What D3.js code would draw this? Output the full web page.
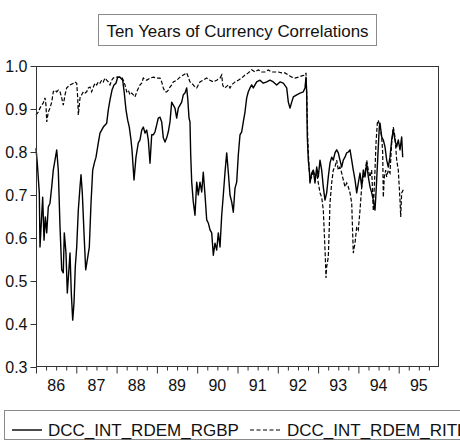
<!DOCTYPE html>
<html><head><meta charset="utf-8">
<script src="https://cdn.jsdelivr.net/npm/d3@7"></script>
<style>
html,body{margin:0;padding:0;background:#fff;}
svg{display:block;font-family:"Liberation Sans",Arial,sans-serif;}
</style></head>
<body><svg id="c" width="460" height="444"></svg>
<script>
const title = "Ten Years of Currency Correlations";
const seriesNames = ["DCC_INT_RDEM_RGBP", "DCC_INT_RDEM_RITL"];
const yTicks = [0.3, 0.4, 0.5, 0.6, 0.7, 0.8, 0.9, 1.0];
const yearLabels = ["86","87","88","89","90","91","92","93","94","95"];
const yearStarts = [1986,1987,1988,1989,1990,1991,1992,1993,1994,1995];

// [decimal year, correlation]
const rgbp = [
[1986.000,0.809],[1986.032,0.774],[1986.082,0.705],[1986.099,0.579],[1986.166,0.695],[1986.199,0.595],
[1986.231,0.649],[1986.266,0.612],[1986.305,0.672],[1986.347,0.681],[1986.390,0.719],[1986.429,0.758],
[1986.471,0.781],[1986.514,0.805],[1986.553,0.758],[1986.596,0.626],[1986.638,0.526],[1986.677,0.519],
[1986.702,0.612],[1986.744,0.565],[1986.777,0.472],[1986.811,0.519],[1986.844,0.565],[1986.876,0.472],
[1986.911,0.409],[1986.943,0.449],[1986.975,0.533],[1987.010,0.579],[1987.050,0.665],[1987.092,0.719],
[1987.117,0.747],[1987.149,0.705],[1987.191,0.612],[1987.233,0.526],[1987.273,0.549],[1987.323,0.579],
[1987.365,0.681],[1987.407,0.758],[1987.447,0.774],[1987.489,0.788],[1987.546,0.821],[1987.588,0.844],
[1987.670,0.858],[1987.754,0.867],[1987.794,0.898],[1987.836,0.921],[1987.886,0.944],[1987.935,0.956],
[1987.985,0.960],[1988.027,0.974],[1988.084,0.974],[1988.151,0.967],[1988.191,0.937],[1988.233,0.898],
[1988.275,0.874],[1988.315,0.858],[1988.357,0.828],[1988.382,0.805],[1988.432,0.735],[1988.481,0.788],
[1988.538,0.821],[1988.581,0.828],[1988.623,0.851],[1988.663,0.858],[1988.705,0.844],[1988.747,0.851],
[1988.787,0.828],[1988.829,0.774],[1988.871,0.840],[1988.911,0.840],[1988.953,0.847],[1988.995,0.863],
[1989.035,0.879],[1989.077,0.881],[1989.119,0.870],[1989.159,0.833],[1989.201,0.823],[1989.243,0.833],
[1989.283,0.847],[1989.325,0.870],[1989.367,0.916],[1989.407,0.909],[1989.449,0.902],[1989.491,0.879],
[1989.531,0.902],[1989.573,0.909],[1989.615,0.916],[1989.655,0.933],[1989.697,0.937],[1989.739,0.949],
[1989.764,0.926],[1989.797,0.879],[1989.821,0.870],[1989.839,0.793],[1989.864,0.730],[1989.903,0.684],
[1989.945,0.653],[1989.988,0.730],[1990.027,0.700],[1990.069,0.730],[1990.112,0.707],[1990.151,0.753],
[1990.194,0.700],[1990.236,0.642],[1990.275,0.635],[1990.318,0.619],[1990.360,0.612],[1990.400,0.560],
[1990.442,0.588],[1990.484,0.572],[1990.524,0.612],[1990.566,0.579],[1990.608,0.653],[1990.648,0.700],
[1990.690,0.753],[1990.732,0.798],[1990.772,0.753],[1990.814,0.700],[1990.856,0.684],[1990.896,0.660],
[1990.938,0.716],[1990.980,0.730],[1991.020,0.793],[1991.062,0.840],[1991.104,0.847],[1991.144,0.870],
[1991.186,0.893],[1991.228,0.926],[1991.268,0.940],[1991.310,0.949],[1991.352,0.956],[1991.392,0.949],
[1991.434,0.956],[1991.476,0.963],[1991.558,0.967],[1991.640,0.960],[1991.725,0.963],[1991.806,0.967],
[1991.888,0.963],[1991.973,0.956],[1992.055,0.963],[1992.136,0.960],[1992.221,0.949],[1992.261,0.916],
[1992.303,0.902],[1992.345,0.916],[1992.385,0.928],[1992.469,0.933],[1992.551,0.937],[1992.633,0.940],
[1992.675,0.949],[1992.700,0.974],[1992.717,0.937],[1992.732,0.835],[1992.757,0.781],[1992.782,0.758],
[1992.799,0.728],[1992.841,0.751],[1992.881,0.758],[1992.923,0.728],[1992.965,0.765],[1993.005,0.742],
[1993.047,0.781],[1993.089,0.758],[1993.129,0.719],[1993.171,0.688],[1993.213,0.705],[1993.253,0.742],
[1993.295,0.774],[1993.337,0.788],[1993.377,0.781],[1993.419,0.798],[1993.461,0.805],[1993.501,0.798],
[1993.543,0.781],[1993.586,0.765],[1993.625,0.781],[1993.667,0.788],[1993.710,0.798],[1993.749,0.800],
[1993.792,0.805],[1993.834,0.781],[1993.873,0.758],[1993.916,0.735],[1993.958,0.705],[1993.998,0.728],
[1994.040,0.751],[1994.082,0.719],[1994.122,0.758],[1994.164,0.742],[1994.206,0.774],[1994.246,0.742],
[1994.288,0.719],[1994.330,0.705],[1994.370,0.688],[1994.412,0.665],[1994.437,0.705],[1994.469,0.765],
[1994.494,0.812],[1994.519,0.858],[1994.536,0.867],[1994.578,0.835],[1994.618,0.828],[1994.660,0.812],
[1994.702,0.781],[1994.742,0.765],[1994.784,0.788],[1994.826,0.828],[1994.866,0.851],[1994.908,0.828],
[1994.950,0.812],[1994.990,0.828],[1995.032,0.805],[1995.074,0.835],[1995.099,0.788]
];

const ritl = [
[1986.000,0.886],[1986.057,0.893],[1986.099,0.902],[1986.141,0.909],[1986.181,0.914],[1986.223,0.926],
[1986.248,0.909],[1986.266,0.870],[1986.305,0.893],[1986.347,0.902],[1986.390,0.916],[1986.429,0.940],
[1986.471,0.944],[1986.514,0.940],[1986.553,0.944],[1986.596,0.940],[1986.638,0.926],[1986.677,0.909],
[1986.720,0.933],[1986.762,0.949],[1986.844,0.956],[1986.926,0.960],[1986.968,0.963],[1987.010,0.960],
[1987.035,0.926],[1987.050,0.886],[1987.092,0.926],[1987.134,0.933],[1987.174,0.940],[1987.216,0.937],
[1987.258,0.940],[1987.298,0.949],[1987.340,0.951],[1987.382,0.940],[1987.422,0.951],[1987.464,0.960],
[1987.506,0.956],[1987.546,0.963],[1987.588,0.960],[1987.630,0.967],[1987.670,0.963],[1987.712,0.972],
[1987.754,0.967],[1987.794,0.963],[1987.836,0.956],[1987.878,0.967],[1987.918,0.972],[1987.960,0.974],
[1988.042,0.974],[1988.127,0.974],[1988.166,0.967],[1988.208,0.956],[1988.251,0.940],[1988.290,0.944],
[1988.333,0.933],[1988.375,0.937],[1988.414,0.933],[1988.457,0.928],[1988.499,0.940],[1988.581,0.956],
[1988.623,0.960],[1988.663,0.972],[1988.747,0.967],[1988.829,0.972],[1988.911,0.974],[1988.995,0.972],
[1989.077,0.972],[1989.119,0.963],[1989.159,0.949],[1989.201,0.940],[1989.243,0.940],[1989.283,0.944],
[1989.325,0.951],[1989.367,0.956],[1989.407,0.963],[1989.491,0.967],[1989.573,0.974],[1989.655,0.979],
[1989.739,0.984],[1989.779,0.974],[1989.821,0.963],[1989.864,0.960],[1989.903,0.956],[1989.945,0.951],
[1989.988,0.949],[1990.027,0.956],[1990.069,0.963],[1990.151,0.967],[1990.236,0.972],[1990.318,0.967],
[1990.400,0.963],[1990.484,0.967],[1990.566,0.972],[1990.608,0.979],[1990.633,0.956],[1990.665,0.949],
[1990.715,0.951],[1990.772,0.956],[1990.814,0.949],[1990.856,0.956],[1990.938,0.963],[1991.020,0.967],
[1991.104,0.972],[1991.186,0.979],[1991.268,0.984],[1991.352,0.991],[1991.434,0.986],[1991.516,0.991],
[1991.600,0.986],[1991.682,0.986],[1991.764,0.991],[1991.849,0.986],[1991.931,0.986],[1992.012,0.986],
[1992.097,0.984],[1992.179,0.984],[1992.261,0.979],[1992.345,0.974],[1992.427,0.972],[1992.509,0.974],
[1992.593,0.977],[1992.675,0.979],[1992.700,0.984],[1992.717,0.937],[1992.742,0.835],[1992.774,0.765],
[1992.799,0.735],[1992.841,0.742],[1992.881,0.758],[1992.923,0.742],[1992.965,0.751],[1993.005,0.728],
[1993.047,0.705],[1993.089,0.695],[1993.129,0.665],[1993.154,0.612],[1993.179,0.556],[1993.196,0.507],
[1993.213,0.533],[1993.253,0.556],[1993.278,0.626],[1993.295,0.681],[1993.337,0.728],[1993.377,0.758],
[1993.419,0.765],[1993.461,0.781],[1993.501,0.758],[1993.543,0.765],[1993.586,0.751],[1993.625,0.735],
[1993.667,0.719],[1993.710,0.728],[1993.749,0.719],[1993.792,0.705],[1993.834,0.681],[1993.873,0.565],
[1993.916,0.588],[1993.958,0.626],[1993.998,0.619],[1994.040,0.665],[1994.082,0.719],[1994.122,0.742],
[1994.164,0.751],[1994.206,0.781],[1994.246,0.758],[1994.288,0.742],[1994.330,0.758],[1994.370,0.663],
[1994.412,0.758],[1994.437,0.821],[1994.469,0.867],[1994.494,0.874],[1994.536,0.858],[1994.578,0.835],
[1994.603,0.798],[1994.618,0.695],[1994.643,0.742],[1994.677,0.758],[1994.702,0.742],[1994.742,0.758],
[1994.784,0.751],[1994.826,0.821],[1994.866,0.858],[1994.908,0.835],[1994.950,0.781],[1994.990,0.758],
[1995.032,0.688],[1995.050,0.649],[1995.074,0.705],[1995.114,0.712]
];

const svg = d3.select("#c");
const L = 36, R = 439, T = 66, B = 367;
const x = d3.scaleLinear().domain([1986, 1996]).range([L, R]);
const y = d3.scaleLinear().domain([0.3, 1.0]).range([B, T]);

// title box
svg.append("rect").attr("x", 98.5).attr("y", 14.5).attr("width", 278).attr("height", 31)
  .attr("fill", "none").attr("stroke", "#8a8a8a").attr("stroke-width", 1);
svg.append("text").attr("x", 237.5).attr("y", 37).attr("text-anchor", "middle")
  .attr("font-size", 17).attr("textLength", 262).attr("lengthAdjust", "spacingAndGlyphs")
  .attr("fill", "#111").text(title);

// lines
const line = d3.line().x(d => x(d[0])).y(d => y(d[1]));
svg.append("path").datum(rgbp).attr("d", line).attr("fill", "none")
  .attr("stroke", "#000").attr("stroke-width", 1.4).attr("stroke-linejoin", "round");
svg.append("path").datum(ritl).attr("d", line).attr("fill", "none")
  .attr("stroke", "#000").attr("stroke-width", 1.2).attr("stroke-dasharray", "4,2");

// frame
svg.append("rect").attr("x", L + 0.5).attr("y", T + 0.5).attr("width", R - L - 1).attr("height", B - T - 1)
  .attr("fill", "none").attr("stroke", "#333").attr("stroke-width", 1);

// y axis
const yAxis = d3.axisLeft(y).tickValues(yTicks).tickFormat(d3.format(".1f")).tickSize(6).tickPadding(3);
const gy = svg.append("g").attr("transform", `translate(${L + 0.5},0)`).call(yAxis);
gy.select(".domain").remove();
gy.selectAll("line").attr("stroke", "#333");
gy.selectAll("text").attr("font-size", 16).attr("fill", "#111").attr("font-family", "Liberation Sans, Arial, sans-serif");

// x axis: major ticks at year starts, minor at quarters
const quarters = [];
yearStarts.forEach(yr => [0.25, 0.5, 0.75].forEach(q => quarters.push(yr + q)));
const gxMinor = svg.append("g").attr("transform", `translate(0,${B - 0.5})`)
  .call(d3.axisBottom(x).tickValues(quarters).tickSize(4).tickFormat(""));
gxMinor.select(".domain").remove();
gxMinor.selectAll("line").attr("stroke", "#333");
const gxMajor = svg.append("g").attr("transform", `translate(0,${B - 0.5})`)
  .call(d3.axisBottom(x).tickValues(yearStarts).tickSize(7).tickFormat(""));
gxMajor.select(".domain").remove();
gxMajor.selectAll("line").attr("stroke", "#333");
svg.append("g").selectAll("text").data(yearStarts).join("text")
  .attr("x", d => x(d + 0.5)).attr("y", 391).attr("text-anchor", "middle")
  .attr("font-size", 16).attr("fill", "#111").text((d, i) => yearLabels[i]);

// legend
svg.append("rect").attr("x", 4.5).attr("y", 410.5).attr("width", 520).attr("height", 29)
  .attr("fill", "none").attr("stroke", "#8a8a8a");
svg.append("line").attr("x1", 12).attr("x2", 42).attr("y1", 430).attr("y2", 430)
  .attr("stroke", "#000").attr("stroke-width", 1.4);
svg.append("text").attr("x", 48).attr("y", 436).attr("font-size", 17).attr("fill", "#111").text(seriesNames[0]);
svg.append("line").attr("x1", 250).attr("x2", 281).attr("y1", 430).attr("y2", 430)
  .attr("stroke", "#000").attr("stroke-width", 1.2).attr("stroke-dasharray", "4,2.5");
svg.append("text").attr("x", 287).attr("y", 436).attr("font-size", 17).attr("fill", "#111").text(seriesNames[1]);
</script></body></html>
